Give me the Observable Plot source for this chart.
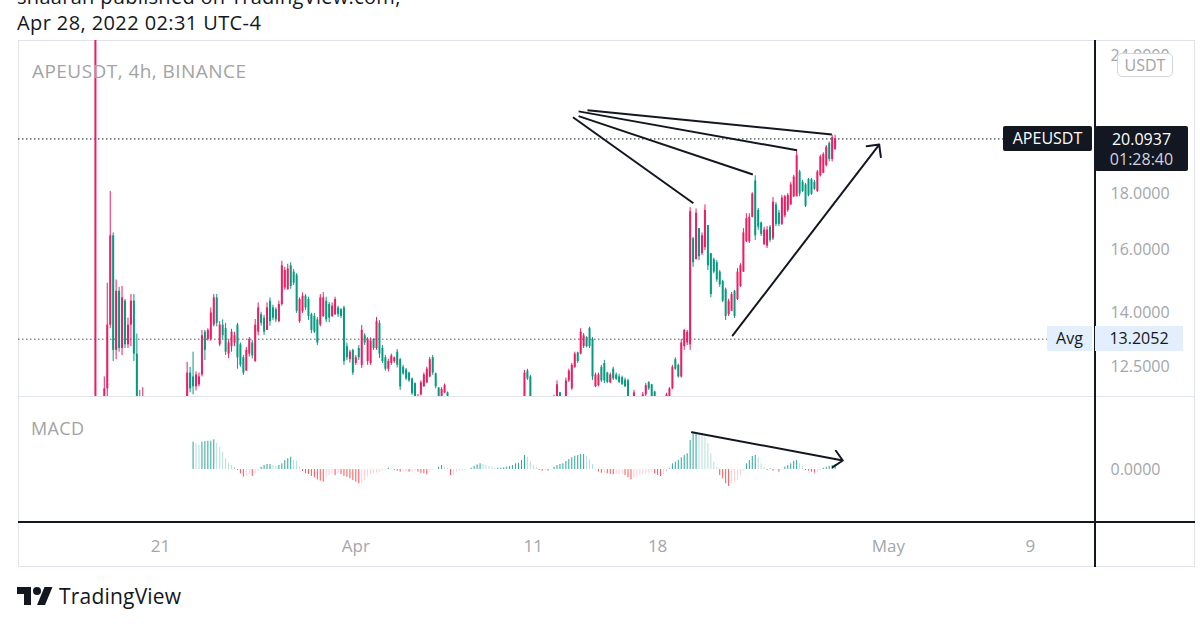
<!DOCTYPE html>
<html><head><meta charset="utf-8">
<script src="https://cdn.jsdelivr.net/npm/d3@7"></script>
<script src="https://cdn.jsdelivr.net/npm/@observablehq/plot@0.6"></script>
<style>
html,body{margin:0;padding:0;background:#fff;}
body{width:1200px;height:629px;overflow:hidden;position:relative;font-family:"Open Sans",sans-serif;}
.abs{position:absolute;white-space:nowrap;}
.plotbox svg{overflow:visible;background:transparent;}
</style></head><body>
<script>
// ---------- DATA ----------
const publishedLine = "shaarah published on TradingView.com,";
const dateLine = "Apr 28, 2022 02:31 UTC-4";
const symbolTitle = "APEUSDT, 4h, BINANCE";
const symbolName = "APEUSDT";
const currency = "USDT";
const countdown = "01:28:40";
const avgPrice = 13.2052;
const macdName = "MACD";

const firstBarUTC = [2022, 2, 17, 8];   // Mar 17 08:00, 4h bars
const barHours = 4;
const viewStartUTC = [2022, 2, 13, 0];
const viewEndUTC = [2022, 4, 12, 16];

const priceTicks = [12.5, 14, 16, 18, 24];
const priceDomain = [11.71, 24.70];
const macdTicks = [0];
const macdDomain = [-0.53, 0.73];

const timeTicksUTC = [[2022,2,21],[2022,3,1],[2022,3,11],[2022,3,18],[2022,4,1],[2022,4,9]];
const timeTickLabels = ["21", "Apr", "11", "18", "May", "9"];

const opens = [1.00,10.80,9.90,11.00,11.90,13.60,16.40,12.90,14.60,12.95,14.30,13.05,13.60,14.30,12.80,11.50,11.30,11.60,11.10,10.90,
10.60,10.80,11.10,11.00,10.60,10.30,10.50,10.90,11.20,11.40,11.30,11.50,12.30,12.20,11.95,12.00,12.25,13.40,13.20,13.20,
13.60,14.40,13.05,13.60,13.50,12.80,13.00,13.10,13.60,13.05,12.70,12.35,12.80,13.10,12.60,13.40,13.90,13.80,13.45,14.30,
14.10,14.05,13.70,14.20,14.70,14.65,15.40,15.20,15.10,13.70,14.00,14.45,14.35,13.90,13.85,13.75,13.60,13.85,14.30,14.20,
13.85,13.90,14.10,14.05,14.10,13.00,12.65,12.90,12.55,12.95,12.50,13.30,12.60,12.55,13.20,12.95,13.65,12.95,12.70,12.40,
12.55,12.60,12.85,12.65,12.45,12.38,12.30,12.15,12.03,11.50,11.75,11.95,12.05,12.20,12.70,12.28,11.92,11.65,11.80,11.80,
11.55,11.20,11.00,11.20,11.30,11.40,11.10,10.80,10.60,10.80,10.90,10.50,10.30,10.50,10.70,10.90,11.00,10.90,10.70,10.80,
11.00,11.30,11.10,11.20,11.40,11.50,12.35,12.20,11.60,11.30,11.10,11.30,11.20,11.00,11.20,11.50,11.70,11.80,11.55,11.50,
12.10,11.90,12.45,12.83,12.80,13.00,13.25,13.50,13.20,11.95,11.98,12.45,12.55,12.30,12.05,12.40,12.25,12.20,12.18,12.12,
12.10,11.55,11.30,11.60,11.40,11.50,11.75,12.05,12.00,11.82,11.50,11.20,11.30,11.50,11.60,11.90,12.65,12.50,12.20,13.00,
13.10,13.05,16.30,15.60,16.65,15.80,16.00,16.76,15.80,15.60,15.50,15.20,14.90,14.65,13.90,14.00,14.60,14.35,14.75,15.20,
16.20,16.20,17.05,18.40,17.30,16.85,16.10,16.05,16.70,16.30,17.50,17.20,16.80,17.10,17.30,17.50,17.80,17.80,18.75,18.35,
18.25,18.45,18.45,18.35,18.00,18.60,18.70,19.00,19.90,19.25,19.65];
const highs = [39.40,11.50,11.40,12.20,14.85,18.00,16.50,14.95,14.72,14.75,14.35,13.80,14.50,14.50,13.35,11.86,11.93,11.65,11.40,11.20,
10.90,11.30,11.50,11.20,10.80,10.70,11.00,11.40,11.60,11.65,11.60,12.58,12.45,12.85,12.33,12.30,13.45,13.45,13.50,14.10,
14.50,14.50,13.70,13.75,13.65,13.20,13.48,13.40,13.65,13.10,12.76,12.98,13.25,13.17,13.76,14.25,13.97,13.88,14.25,14.40,
14.18,14.10,14.30,15.55,15.35,15.45,15.50,15.28,15.15,14.40,14.55,14.50,14.42,13.94,13.94,13.82,14.50,14.56,14.42,14.26,
14.25,14.42,14.15,14.08,14.15,13.10,12.90,12.93,12.76,13.03,13.59,13.36,13.25,13.24,13.22,13.82,13.73,13.03,12.76,12.66,
12.80,12.72,12.92,12.68,12.50,12.42,12.32,12.17,12.05,11.76,12.10,12.30,12.45,12.71,12.76,12.30,11.93,11.93,12.02,11.82,
11.60,11.40,11.30,11.50,11.60,11.60,11.20,11.00,10.90,11.10,11.00,10.70,10.60,10.80,11.00,11.20,11.30,11.10,10.90,11.10,
11.40,11.50,11.30,11.50,11.60,12.37,12.40,12.24,11.65,11.50,11.40,11.60,11.40,11.30,11.60,11.74,12.10,11.81,11.65,12.17,
12.40,12.55,12.85,12.85,13.50,13.36,13.27,13.54,13.25,12.30,12.30,12.50,12.63,12.32,12.30,12.45,12.30,12.27,12.22,12.17,
12.14,11.65,11.86,11.68,11.60,11.81,12.03,12.08,12.01,11.84,11.60,11.40,11.60,11.79,11.93,12.50,12.70,12.53,13.20,13.48,
13.45,17.40,16.35,17.35,16.65,16.50,17.50,16.76,15.80,15.65,15.57,15.25,14.94,14.70,14.36,14.56,14.63,15.31,15.47,16.65,
17.18,17.18,17.95,18.60,17.37,16.88,16.70,16.72,16.76,17.77,17.59,17.30,17.85,17.85,17.92,18.34,18.62,19.62,18.81,18.42,
18.31,18.50,18.50,18.42,18.81,19.42,19.52,19.82,19.97,20.25,20.25];
const lows = [1.00,8.50,9.50,10.90,11.60,13.50,12.60,12.65,12.85,12.76,12.95,12.95,13.00,12.60,11.30,11.20,11.20,11.00,10.70,10.40,
10.20,10.60,10.90,10.50,10.10,10.00,10.40,10.80,11.00,11.10,11.10,11.40,11.80,11.75,11.85,11.95,12.20,12.63,13.15,13.15,
13.55,13.55,13.00,13.20,12.76,12.68,12.85,13.00,12.40,12.45,12.24,12.35,12.72,12.67,12.58,13.30,13.57,13.31,13.45,13.57,
13.73,13.67,13.67,14.15,14.63,14.63,14.66,14.78,13.94,13.65,13.94,14.03,13.73,13.36,13.36,13.03,13.55,13.82,13.67,13.67,
13.82,13.88,13.82,13.79,12.50,12.63,12.56,12.24,12.50,12.63,12.42,13.03,12.50,12.50,12.90,12.90,12.68,12.55,12.35,12.33,
12.50,12.55,12.43,11.86,12.24,12.11,12.06,11.74,11.50,11.45,11.72,11.94,12.03,12.18,12.24,11.90,11.60,11.60,11.78,11.50,
11.10,10.90,10.80,11.00,11.10,11.00,10.70,10.50,10.40,10.60,10.40,10.10,10.00,10.30,10.50,10.70,10.80,10.60,10.40,10.60,
10.90,11.00,10.90,11.00,11.20,11.45,12.11,11.50,11.20,11.00,10.90,11.10,10.90,10.80,11.10,11.40,11.68,11.50,11.30,11.45,
12.06,11.86,12.42,12.55,12.78,12.95,12.97,12.95,12.11,11.93,11.95,12.06,12.03,12.03,12.03,12.11,12.11,12.03,11.99,11.93,
11.50,11.20,11.25,11.30,11.20,11.45,11.70,11.86,11.55,11.40,11.10,11.00,11.20,11.45,11.55,11.88,12.37,12.17,12.17,12.90,
13.03,12.90,15.35,15.60,15.57,15.74,15.90,15.25,14.40,15.15,14.88,14.72,14.26,13.73,13.85,14.00,13.79,14.32,14.72,15.19,
16.17,16.14,17.03,16.24,16.59,16.38,16.07,15.97,16.17,16.24,16.72,16.72,16.76,17.03,17.23,17.48,17.77,17.80,17.80,17.96,
17.40,17.80,17.85,18.04,17.96,18.55,18.68,18.95,19.15,19.15,19.62];
const closes = [28.00,9.90,11.00,11.90,13.60,16.40,12.90,14.60,12.95,14.40,13.05,13.60,14.30,12.80,11.50,11.30,11.60,11.10,10.90,10.60,
10.80,11.10,11.00,10.60,10.30,10.50,10.90,11.20,11.40,11.30,11.50,12.30,11.90,11.95,12.25,12.20,13.30,12.90,13.45,13.95,
14.40,13.65,13.60,13.30,12.85,13.10,13.40,13.30,12.70,12.50,12.30,12.90,13.20,12.75,13.60,14.10,13.65,13.40,14.10,13.70,
13.80,13.75,14.20,15.40,15.25,15.30,14.75,14.85,14.00,14.35,14.45,14.10,13.85,13.45,13.40,13.10,14.40,14.40,13.75,13.80,
14.15,14.35,13.90,13.85,12.60,12.70,12.85,12.30,12.70,12.70,13.45,13.10,13.20,13.15,12.95,13.70,12.80,12.60,12.40,12.60,
12.75,12.70,12.50,11.95,12.28,12.15,12.10,11.78,11.55,11.70,12.05,12.25,12.40,12.65,12.30,11.95,11.65,11.88,11.98,11.55,
11.20,11.00,11.20,11.30,11.40,11.10,10.80,10.60,10.80,10.90,10.50,10.30,10.50,10.70,10.90,11.00,10.90,10.70,10.80,11.00,
11.30,11.10,11.20,11.40,11.50,12.30,12.15,11.60,11.30,11.10,11.30,11.20,11.00,11.20,11.50,11.65,12.00,11.55,11.50,12.10,
12.35,12.50,12.80,12.60,13.40,13.30,13.00,13.00,12.20,12.25,12.25,12.10,12.10,12.06,12.25,12.15,12.14,12.06,12.00,11.95,
11.55,11.30,11.80,11.40,11.50,11.75,11.98,11.90,11.60,11.50,11.20,11.30,11.55,11.75,11.90,12.45,12.40,12.20,13.10,13.45,
13.40,17.25,15.50,17.20,15.70,16.40,17.30,15.40,14.50,15.20,14.95,14.80,14.30,13.85,14.30,14.50,13.85,15.20,15.40,16.50,
17.00,17.05,17.90,16.40,16.70,16.45,16.60,16.60,16.25,17.60,16.80,16.80,17.75,17.80,17.85,18.25,18.55,19.40,17.90,18.00,
17.45,17.85,17.90,18.08,18.75,19.35,19.45,19.75,19.25,20.15,20.0937];

const macdStartBar = 33;
const macdHist = [0.273,0.257,0.24,0.273,0.28,0.283,0.283,0.297,0.263,0.223,
0.173,0.107,0.063,0.04,0.023,-0.01,-0.043,-0.077,-0.07,-0.053,
-0.07,-0.043,-0.017,0.023,0.04,0.05,0.05,0.04,0.03,0.04,
0.057,0.09,0.107,0.123,0.09,0.083,0.023,-0.02,-0.043,-0.05,
-0.07,-0.083,-0.103,-0.117,-0.127,-0.093,-0.06,-0.043,-0.06,-0.043,
-0.05,-0.07,-0.077,-0.093,-0.11,-0.127,-0.143,-0.143,-0.11,-0.077,
-0.053,-0.043,-0.037,-0.027,-0.017,-0.01,0.013,0.007,-0.01,-0.017,
-0.027,-0.017,-0.017,-0.027,-0.027,-0.017,-0.027,-0.037,-0.043,-0.053,
-0.027,-0.01,-0.003,0.023,0.04,0.023,0.013,
-0.06,-0.06,-0.027,-0.017,-0.017,-0.01,-0.003,0.013,0.03,0.047,
0.057,0.05,0.04,0.03,0.023,0.013,0.013,0.013,0.017,0.023,
0.03,0.04,0.057,0.063,0.09,0.14,0.123,0.073,0.04,0.023,
-0.01,-0.017,-0.01,-0.017,-0.003,0.023,0.04,0.05,0.057,0.08,
0.1,0.117,0.133,0.14,0.15,0.15,0.13,0.097,0.05,-0.003,
-0.027,-0.037,-0.037,-0.043,-0.05,-0.053,-0.05,-0.05,-0.05,-0.06,
-0.083,-0.103,-0.093,-0.077,-0.06,-0.05,-0.043,-0.037,-0.027,-0.043,
-0.06,-0.07,-0.05,-0.027,0.007,0.057,0.073,0.09,0.117,0.14,
0.157,0.29,0.357,0.363,0.357,0.34,0.323,0.257,0.157,0.073,
0.023,-0.06,-0.093,-0.143,-0.17,-0.143,-0.127,-0.11,-0.06,-0.017,
0.057,0.09,0.13,0.14,0.117,0.057,0.023,-0.01,0.007,-0.017,
-0.01,-0.027,-0.01,0.023,0.04,0.057,0.083,0.09,0.057,0.03,
-0.01,-0.017,-0.027,-0.037,-0.027,-0.01,0.013,0.023,0.03,0.04,
0.05];

// drawings (bar index, price / value)
const fanFromBar = [161.4, 163.3, 163.3, 166.3];
const fanFromPrice = [21.03, 21.08, 21.29, 21.34];
const fanToBar = [202.1, 222.2, 237.1, 248.9];
const fanToPrice = [17.56, 18.65, 19.62, 20.28];
const priceArrowBar = [215.4, 264.9];
const priceArrowPrice = [13.31, 19.86];
const macdArrowBar = [201.6, 252.6];
const macdArrowValue = [0.373, 0.09];

// ---------- LAYOUT / STYLE ----------
const upColor = "#e91e63", downColor = "#089981";
const histUp = "#26a69a", histUpFade = "#b2dfdb", histDown = "#ff5252", histDownFade = "#ffcdd2";
const gray = "#a3a6ab", ink = "#131722";
const FONT = "Open Sans";
const frameL = 18, frameT = 40, frameW = 1177, frameH = 527, scaleW = 100;
const priceH = 356, macdH = 171, axisH = 45;

const utc = a => new Date(Date.UTC(a[0], a[1], a[2], a[3] || 0));
const t0 = +utc(firstBarUTC), barMs = barHours * 3600e3;
const barDate = i => new Date(t0 + i * barMs);
const xDomain = [utc(viewStartUTC), utc(viewEndUTC)];
const timeTicks = timeTicksUTC.map(utc);
const lastClose = closes[closes.length - 1];

const idx = d3.range(closes.length);
const upIdx = idx.filter(i => closes[i] >= opens[i]);
const dnIdx = idx.filter(i => closes[i] < opens[i]);

const hist = macdHist.map((v, k) => {
  const prev = k > 0 ? macdHist[k - 1] : v;
  const color = v >= 0 ? (v >= prev ? histUp : histUpFade) : (v < prev ? histDown : histDownFade);
  return {date: barDate(macdStartBar + k), v, color};
});
const fans = fanFromBar.map((b, k) => ({x1: barDate(b), y1: fanFromPrice[k], x2: barDate(fanToBar[k]), y2: fanToPrice[k]}));

function add(el, css) { Object.assign(el.style, css); el.classList.add("abs"); document.body.appendChild(el); return el; }
function txt(s, css) { const d = document.createElement("div"); d.textContent = s; return add(d, css); }

// header
txt(publishedLine, {left: "17px", top: "-17px", fontSize: "20px", letterSpacing: "0.3px", color: ink, fontFamily: FONT});
txt(dateLine, {left: "17px", top: "9px", fontSize: "20px", letterSpacing: "0.4px", color: ink, fontFamily: FONT});

// frame
add(document.createElement("div"), {left: frameL + "px", top: frameT + "px", width: frameW + "px", height: frameH + "px", border: "1px solid #e0e3eb", boxSizing: "border-box"});
add(document.createElement("div"), {left: frameL + "px", top: (frameT + priceH) + "px", width: frameW + "px", height: "1px", background: "#e0e3eb"});

// price pane
const pricePlot = Plot.plot({
  width: frameW, height: priceH,
  marginLeft: 0, marginRight: scaleW, marginTop: 0, marginBottom: 0,
  style: {fontFamily: FONT, fontSize: "16px", color: gray, background: "transparent", overflow: "visible"},
  x: {type: "utc", domain: xDomain, axis: null},
  y: {type: "log", domain: priceDomain, axis: null},
  marks: [
    Plot.axisY({ticks: priceTicks, anchor: "right", label: null, tickSize: 0, tickPadding: 15, dy: 2, tickFormat: d => d.toFixed(4), fontSize: 16, fill: gray}),
    Plot.ruleY([avgPrice], {stroke: "#555", strokeDasharray: "1.5,2.5"}),
    Plot.ruleY([lastClose], {stroke: ink, strokeDasharray: "1.5,2.5"}),
    Plot.ruleX(upIdx, {x: barDate, y1: i => lows[i], y2: i => highs[i], stroke: upColor, strokeWidth: 1, clip: true}),
    Plot.ruleX(dnIdx, {x: barDate, y1: i => lows[i], y2: i => highs[i], stroke: downColor, strokeWidth: 1, clip: true}),
    Plot.ruleX(upIdx, {x: barDate, y1: i => opens[i], y2: i => closes[i], stroke: upColor, strokeWidth: 2, clip: true}),
    Plot.ruleX(dnIdx, {x: barDate, y1: i => opens[i], y2: i => closes[i], stroke: downColor, strokeWidth: 2, clip: true}),
    Plot.link(fans, {x1: "x1", y1: "y1", x2: "x2", y2: "y2", stroke: ink, strokeWidth: 2}),
    Plot.arrow([0], {x1: () => barDate(priceArrowBar[0]), y1: () => priceArrowPrice[0], x2: () => barDate(priceArrowBar[1]), y2: () => priceArrowPrice[1], stroke: ink, strokeWidth: 2, headAngle: 90, headLength: 9.5})
  ]
});
const pb = document.createElement("div"); pb.className = "plotbox"; pb.appendChild(pricePlot);
add(pb, {left: frameL + "px", top: frameT + "px"});

// macd pane
const macdPlot = Plot.plot({
  width: frameW, height: macdH,
  marginLeft: 0, marginRight: scaleW, marginTop: 0, marginBottom: axisH,
  style: {fontFamily: FONT, fontSize: "16px", color: gray, background: "transparent", overflow: "visible"},
  x: {type: "utc", domain: xDomain, axis: null},
  y: {domain: macdDomain, axis: null},
  marks: [
    Plot.axisY({ticks: macdTicks, anchor: "right", label: null, tickSize: 0, tickPadding: 15, tickFormat: d => d.toFixed(4), fontSize: 16, fill: gray}),
    Plot.axisX({ticks: timeTicks, anchor: "bottom", label: null, tickSize: 0, tickPadding: 17, fontSize: 17, fill: gray,
      tickFormat: d => timeTickLabels[timeTicks.findIndex(t => +t === +d)]}),
    Plot.ruleX(hist, {x: "date", y1: 0, y2: "v", stroke: "color", strokeWidth: 1}),
    Plot.arrow([0], {x1: () => barDate(macdArrowBar[0]), y1: () => macdArrowValue[0], x2: () => barDate(macdArrowBar[1]), y2: () => macdArrowValue[1], stroke: ink, strokeWidth: 2, headAngle: 88, headLength: 9})
  ]
});
const mb = document.createElement("div"); mb.className = "plotbox"; mb.appendChild(macdPlot);
add(mb, {left: frameL + "px", top: (frameT + priceH) + "px"});

// drawn black lines (vertical at price-scale edge, horizontal under MACD pane)
add(document.createElement("div"), {left: (frameL + frameW - scaleW - 1) + "px", top: frameT + "px", width: "2px", height: frameH + "px", background: ink});
add(document.createElement("div"), {left: frameL + "px", top: (frameT + priceH + macdH - axisH - 1) + "px", width: frameW + "px", height: "2px", background: ink});

// pane titles
txt(symbolTitle, {left: "32px", top: "58px", fontSize: "19px", letterSpacing: "0.45px", color: "#a3a3a3", fontFamily: FONT});
txt(macdName, {left: "31px", top: "416px", fontSize: "18px", letterSpacing: "0.4px", color: "#a3a3a3", fontFamily: FONT});

// price scale labels
const ys = pricePlot.scale("y");
const yLast = frameT + ys.apply(lastClose), yAvg = frameT + ys.apply(avgPrice);
const scaleX = frameL + frameW - scaleW;
txt(symbolName, {left: (scaleX - 92) + "px", top: (yLast - 12.5) + "px", width: "89px", height: "25px", lineHeight: "25px", textAlign: "center", background: ink, color: "#fff", fontSize: "16px", borderRadius: "2px", fontFamily: FONT});
const pbox = add(document.createElement("div"), {left: scaleX + "px", top: (yLast - 12.5) + "px", width: "93px", height: "45px", background: ink, borderRadius: "2px", fontFamily: FONT, textAlign: "center"});
pbox.innerHTML = `<div style="color:#fff;font-size:16px;line-height:22px;padding-top:2px">${lastClose.toFixed(4)}</div><div style="color:#d1d4dc;font-size:16px;line-height:18px">${countdown}</div>`;
txt("Avg", {left: (scaleX - 48) + "px", top: (yAvg - 12.5) + "px", width: "45px", height: "25px", lineHeight: "25px", textAlign: "center", background: "#e3effd", color: ink, fontSize: "16px", fontFamily: FONT});
txt(avgPrice.toFixed(4), {left: scaleX + "px", top: (yAvg - 12.5) + "px", width: "88px", height: "25px", lineHeight: "25px", textAlign: "center", background: "#e3effd", color: ink, fontSize: "16px", fontFamily: FONT});
txt(currency, {left: (scaleX + 22) + "px", top: "53px", width: "54px", height: "22px", lineHeight: "22px", textAlign: "center", background: "#fff", border: "1px solid #d1d4dc", borderRadius: "5px", color: "#a3a3a3", fontSize: "16px", fontFamily: FONT});

// footer logo
const logo = document.createElement("div");
logo.innerHTML = `<svg width="36" height="28" viewBox="0 0 36 28"><path fill="${ink}" d="M14 22H7V11H0V4h14v18zM28 22h-8l7.5-18h8L28 22z"/><circle fill="${ink}" cx="20" cy="8" r="4"/></svg>`;
add(logo, {left: "17px", top: "583px"});
txt("TradingView", {left: "59px", top: "582px", fontSize: "21px", letterSpacing: "0.2px", color: ink, fontFamily: FONT});
</script>
</body></html>
